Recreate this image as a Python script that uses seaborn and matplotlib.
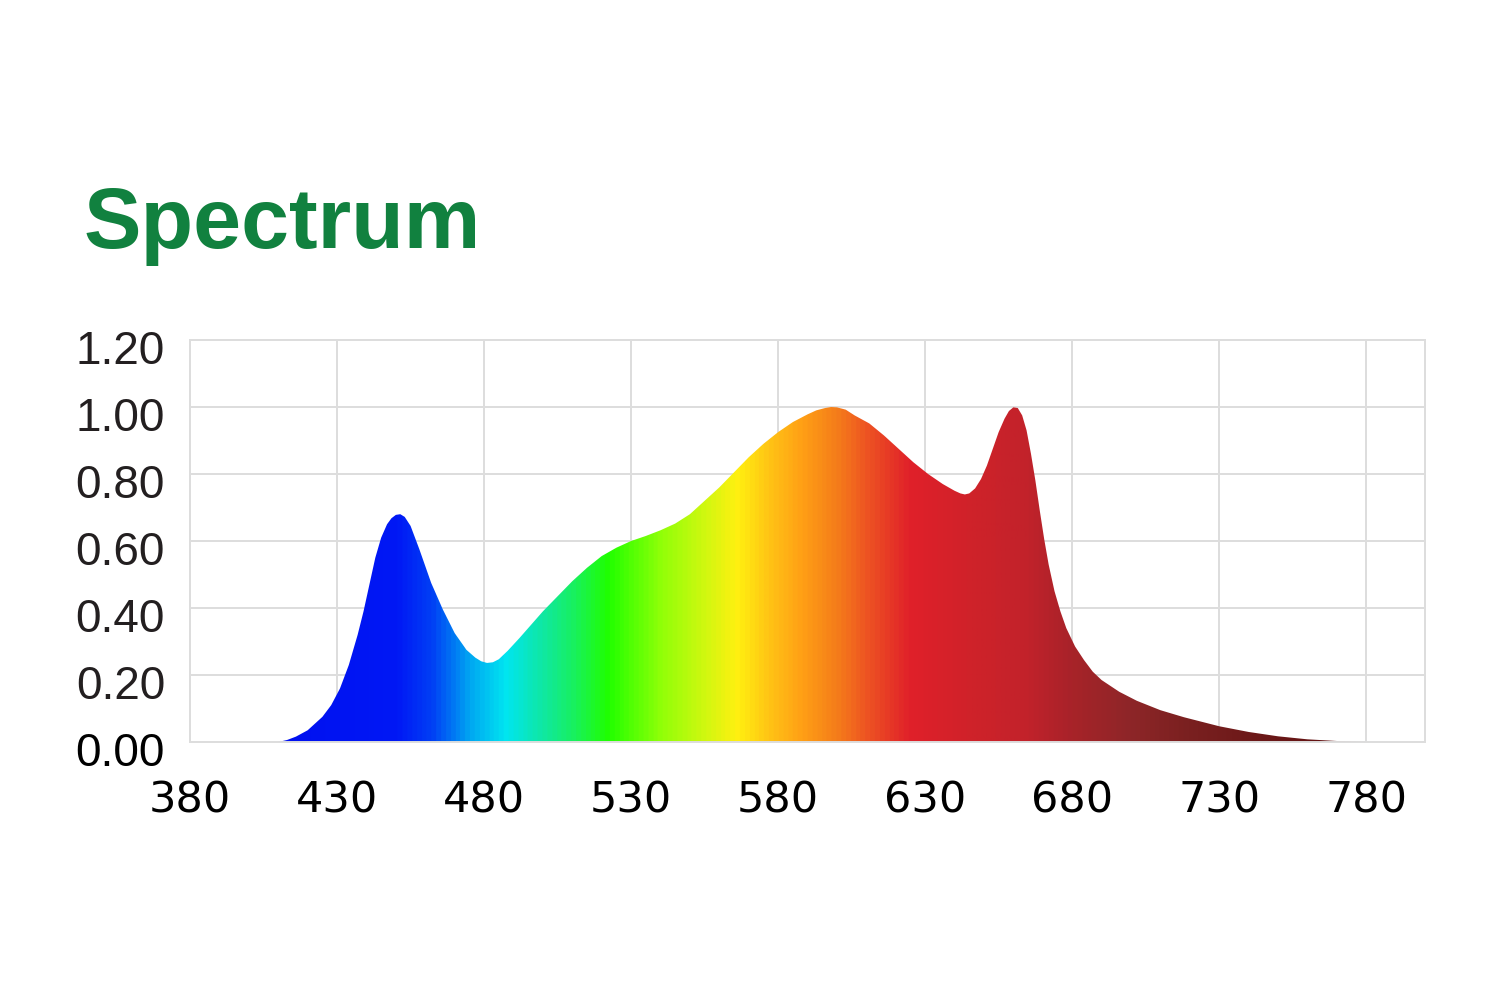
import numpy as np
import pandas as pd
import matplotlib
matplotlib.use('Agg')
import matplotlib.pyplot as plt
import matplotlib.transforms as mtransforms
import seaborn as sns
from matplotlib.colors import LinearSegmentedColormap

# spectrum (wavelength nm, relative intensity)
wavelength = [410, 413, 416, 420, 425, 428, 431, 434, 437, 439, 441, 443, 445, 447,
              448.5, 450, 451.5, 453, 455, 458, 462, 466, 470, 474, 477, 479, 481, 483,
              485, 488, 492, 496, 500, 505, 510, 515, 520, 525, 530, 535, 540, 545, 550,
              555, 560, 565, 570, 575, 580, 585, 590, 593, 596, 598, 600, 603, 606, 611,
              616, 621, 626, 631, 636, 640, 642, 643.5, 645, 647, 649, 651, 653, 655,
              657, 658.5, 660, 661.5, 663, 664.5, 666, 667.5, 669, 670.5, 672, 674, 676,
              678, 681, 684, 687, 690, 696, 702, 710, 718, 730, 740, 750, 760, 770, 780]
intensity = [0.0, 0.006, 0.016, 0.035, 0.075, 0.11, 0.16, 0.23, 0.32, 0.39, 0.47, 0.55,
             0.61, 0.65, 0.668, 0.678, 0.68, 0.672, 0.645, 0.575, 0.475, 0.395, 0.325,
             0.275, 0.252, 0.241, 0.236, 0.238, 0.247, 0.272, 0.31, 0.35, 0.39, 0.435,
             0.48, 0.52, 0.555, 0.58, 0.60, 0.615, 0.632, 0.652, 0.68, 0.72, 0.76, 0.805,
             0.85, 0.89, 0.925, 0.955, 0.978, 0.99, 0.997, 1.0, 0.999, 0.992, 0.975,
             0.951, 0.915, 0.875, 0.835, 0.80, 0.77, 0.75, 0.742, 0.739, 0.742, 0.757,
             0.785, 0.825, 0.875, 0.925, 0.965, 0.988, 0.999, 0.997, 0.975, 0.93, 0.86,
             0.78, 0.69, 0.605, 0.53, 0.45, 0.39, 0.34, 0.285, 0.245, 0.21, 0.185, 0.15,
             0.123, 0.095, 0.074, 0.047, 0.03, 0.017, 0.008, 0.003, 0.0]

# colour stops of the fill gradient
stop_nm = [380, 410, 450, 462, 475, 487, 500, 510, 522, 540, 555, 566, 578, 588,
           600, 610, 625, 645, 665, 680, 700, 720, 745, 780, 800]
stop_colors = ['#0010F0', '#0010F0', '#0018F5', '#0040F5', '#00A8F2', '#00E5F0', '#10E8A0',
               '#18F060', '#20FF00', '#90FF08', '#D0F810', '#FFF010', '#FFC015', '#FFA015',
               '#F57D1A', '#EE5522', '#E0202A', '#D02229', '#C2222B', '#A82329', '#8E2628',
               '#7A2020', '#6B1818', '#5E1010', '#5E1010']

x_ticks = [380, 430, 480, 530, 580, 630, 680, 730, 780]
y_ticks = [0.0, 0.2, 0.4, 0.6, 0.8, 1.0, 1.2]

df = pd.DataFrame({'wavelength': wavelength, 'intensity': intensity})

sns.set_theme(style='whitegrid')
plt.rcParams['font.family'] = ['Liberation Sans', 'DejaVu Sans']

fig = plt.figure(figsize=(15, 10), dpi=100)
ax = fig.add_axes([0.1267, 0.258, 0.8233, 0.402])

sns.lineplot(data=df, x='wavelength', y='intensity', ax=ax, linewidth=0, color='white')

# gradient fill clipped to the curve
poly = ax.fill_between(df['wavelength'], df['intensity'], 0, color='none', linewidth=0)
lo, hi = 380, 800
pos = [(s - lo) / (hi - lo) for s in stop_nm]
cmap = LinearSegmentedColormap.from_list('spec', list(zip(pos, stop_colors)))
grad = np.linspace(lo, hi, 1500)[None, :]
im = ax.imshow(grad, extent=[lo, hi, 0, 1.2], aspect='auto', cmap=cmap,
               vmin=lo, vmax=hi, origin='lower', zorder=2, interpolation='bilinear')
im.set_clip_path(poly.get_paths()[0], transform=ax.transData)

ax.set_xlim(380, 800)
ax.set_ylim(0, 1.2)
ax.set_xticks(x_ticks)
ax.set_yticks(y_ticks)
ax.tick_params(axis='both', length=0)
ax.tick_params(axis='y', pad=18)
ax.tick_params(axis='x', pad=27)
ax.set_xticklabels([str(t) for t in x_ticks], fontsize=31, color='black',
                   family=['DejaVu Sans'])
ax.set_yticklabels([f'{t:.2f}' for t in y_ticks], fontsize=33, color='#231f20')
# y labels sit a little below their gridlines in the original
shift = mtransforms.ScaledTranslation(0, -0.07, fig.dpi_scale_trans)
for lab in ax.get_yticklabels():
    lab.set_transform(lab.get_transform() + shift)
ax.get_yticklabels()[0].set_color('black')
ax.set_xlabel('')
ax.set_ylabel('')
ax.grid(True, color='#dddddd', linewidth=1.4)
ax.set_axisbelow(True)
for sp in ax.spines.values():
    sp.set_color('#dddddd')
    sp.set_linewidth(1.4)

fig.text(0.056, 0.752, 'Spectrum', fontsize=62, fontweight='bold', color='#11813F',
         va='baseline', ha='left')

fig.savefig('out.png', dpi=100)
